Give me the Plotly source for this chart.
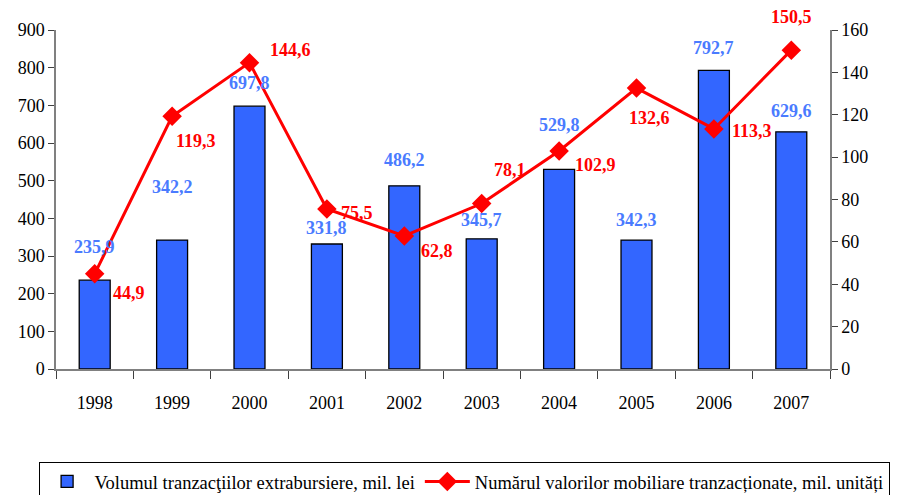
import plotly.graph_objects as go

years = [1998, 1999, 2000, 2001, 2002, 2003, 2004, 2005, 2006, 2007]
volume = [235.9, 342.2, 697.8, 331.8, 486.2, 345.7, 529.8, 342.3, 792.7, 629.6]
count = [44.9, 119.3, 144.6, 75.5, 62.8, 78.1, 102.9, 132.6, 113.3, 150.5]

bar_name = "Volumul tranzacţiilor extrabursiere, mil. lei"
line_name = "Numărul valorilor mobiliare tranzacționate, mil. unități"

# label offsets (pixels) for the data labels
bar_label_shift = [33, 53, 23, 16, 26, 19, 44, 20, 22, 21]
line_label_dx = [34, 24, 41, 30, 33, 28, 36, 13, 38, 0]
line_label_dy = [-19, -25, 13, -4, -15, 34, -14, -30, -2, 33]

FONT = "Liberation Serif"
BLUE = "#3366FF"
LBLUE = "#4A7BFF"
RED = "#FF0000"

fig = go.Figure()
fig.add_trace(go.Bar(
    x=years, y=volume, name=bar_name,
    marker=dict(color=BLUE, line=dict(color="black", width=1.3)),
))
fig.add_trace(go.Scatter(
    x=years, y=count, name=line_name, mode="lines+markers",
    line=dict(color=RED, width=3),
    marker=dict(symbol="diamond", size=15, color=RED),
    yaxis="y2",
))

ann = []
for i in range(len(years)):
    ann.append(dict(x=years[i], y=volume[i], xref="x", yref="y",
                    text="<b>" + f"{volume[i]:.1f}".replace(".", ",") + "</b>",
                    showarrow=False, yshift=bar_label_shift[i], yanchor="middle",
                    font=dict(family=FONT, size=18, color=LBLUE)))
for i in range(len(years)):
    ann.append(dict(x=years[i], y=count[i], xref="x", yref="y2",
                    text="<b>" + f"{count[i]:.1f}".replace(".", ",") + "</b>",
                    showarrow=False, xshift=line_label_dx[i], yshift=line_label_dy[i],
                    yanchor="middle",
                    font=dict(family=FONT, size=18, color=RED)))

fig.update_layout(
    width=902, height=495,
    margin=dict(l=48, r=80, t=22, b=134, autoexpand=False),
    paper_bgcolor="white", plot_bgcolor="white",
    font=dict(family=FONT, size=18, color="black"),
    bargap=0.6,
    showlegend=True,
    legend=dict(orientation="h", x=1.077, xanchor="right", y=-0.274, yanchor="top",
                bordercolor="black", borderwidth=1, itemwidth=45,
                font=dict(family=FONT, size=18.5)),
    xaxis=dict(range=[1997.5, 2007.5], tickmode="array", tickvals=years,
               showline=True, linecolor="#808080", linewidth=1.5,
               ticks="outside", ticklen=17, tickcolor="rgba(0,0,0,0)",
               minor=dict(ticks="outside", tick0=1997.5, dtick=1, ticklen=8,
                          tickcolor="#404040", showgrid=False),
               showgrid=False, zeroline=False),
    yaxis=dict(range=[0, 900], dtick=100, showline=True, linecolor="#808080", linewidth=1.5,
               ticks="outside", ticklen=6, tickcolor="#404040", showgrid=False, zeroline=False),
    yaxis2=dict(range=[0, 160], dtick=20, overlaying="y", side="right", showline=True,
                linecolor="#808080", linewidth=1.5, ticks="outside", ticklen=6,
                tickcolor="#404040", showgrid=False, zeroline=False),
    annotations=ann,
)

fig.write_html("out.html")
